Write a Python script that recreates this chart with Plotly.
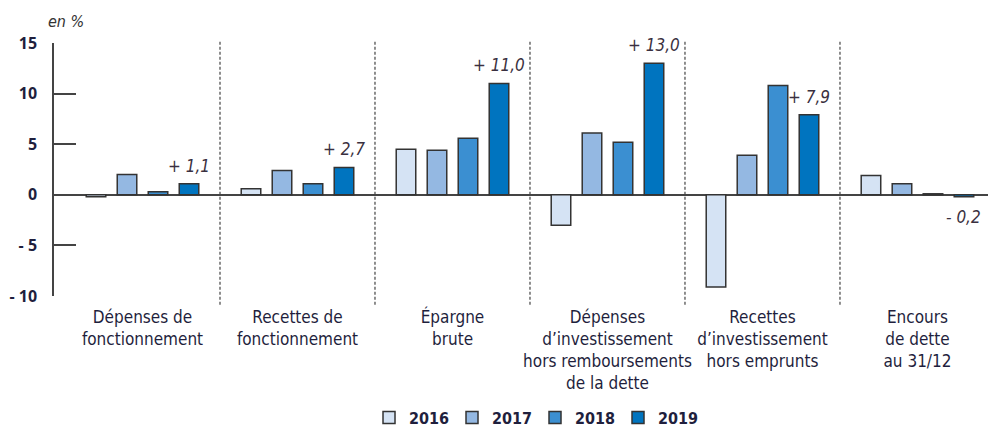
import plotly.graph_objects as go

categories = [
    "Dépenses de<br>fonctionnement",
    "Recettes de<br>fonctionnement",
    "Épargne<br>brute",
    "Dépenses<br>d’investissement<br>hors remboursements<br>de la dette",
    "Recettes<br>d’investissement<br>hors emprunts",
    "Encours<br>de dette<br>au 31/12",
]
years = ["2016", "2017", "2018", "2019"]
v2016 = [-0.2, 0.6, 4.5, -3.0, -9.1, 1.9]
v2017 = [2.0, 2.4, 4.4, 6.1, 3.9, 1.1]
v2018 = [0.3, 1.1, 5.6, 5.2, 10.8, 0.1]
v2019 = [1.1, 2.7, 11.0, 13.0, 7.9, -0.2]
labels2019 = ["+ 1,1", "+ 2,7", "+ 11,0", "+ 13,0", "+ 7,9", "- 0,2"]
colors = ["#d5e3f4", "#94b8e2", "#3b8fd1", "#0074bf"]
yticks = [-10, -5, 0, 5, 10, 15]
yticktext = ["- 10", "- 5", "0", "5", "10", "15"]

FONT = "Liberation Sans Narrow, DejaVu Sans Condensed, sans-serif"
TXT = "#1f1f3d"

fig = go.Figure()
for yr, vals, col in zip(years, [v2016, v2017, v2018, v2019], colors):
    fig.add_trace(go.Bar(
        x=categories, y=vals, name=yr,
        marker=dict(color=col, line=dict(color="#333333", width=1.5)),
        hoverinfo="skip",
    ))

for i, (v, t) in enumerate(zip(v2019, labels2019)):
    fig.add_annotation(
        x=categories[i], y=v, text=t, showarrow=False,
        xshift=46.5, yshift=18 if v >= 0 else -20,
        font=dict(family=FONT, size=17, color="#3a3040", style="italic"),
    )

for i in range(len(categories) - 1):
    fig.add_shape(
        type="line", xref="x", yref="paper",
        x0=i + 0.5, x1=i + 0.5, y0=-0.035, y1=1.01,
        line=dict(color="#444444", width=1.2, dash="3px,2px"),
    )

fig.add_annotation(
    xref="paper", yref="paper", x=0.0, y=1.13, xanchor="left",
    text="en %", showarrow=False, xshift=-8,
    font=dict(family=FONT, size=16, color="#333333", style="italic"),
)

fig.update_layout(
    width=988, height=427,
    margin=dict(l=54, r=0, t=43, b=131, autoexpand=False),
    paper_bgcolor="white", plot_bgcolor="white",
    barmode="group", bargap=0.2, bargroupgap=0.37,
    font=dict(family=FONT, size=17, color=TXT),
    showlegend=True,
    legend=dict(
        orientation="h", x=0.515, xanchor="center",
        yref="container", y=0.022, yanchor="middle",
        font=dict(family=FONT, size=16, color=TXT, weight="bold"),
        traceorder="normal", entrywidth=38,
    ),
    xaxis=dict(
        type="category", range=[-0.571, 5.455], automargin=False,
        showline=False, showgrid=False, ticks="",
        ticklabelstandoff=9,
        tickfont=dict(family=FONT, size=17, color=TXT),
    ),
    yaxis=dict(
        range=[-10, 15], tickvals=yticks, ticktext=yticktext, automargin=False,
        showgrid=False, showline=True, linecolor="#444444", linewidth=1.5,
        ticks="inside", ticklen=22, tickcolor="#444444", tickwidth=1.5,
        ticklabelstandoff=12,
        zeroline=True, zerolinecolor="#444444", zerolinewidth=1.5,
        tickfont=dict(family="Noto Sans, sans-serif", size=16, color=TXT, weight="bold"),
    ),
)

fig.write_html(
    "out.html",
    config={"displayModeBar": False},
    post_script="document.body.style.margin='0';document.body.style.overflow='hidden';",
)
